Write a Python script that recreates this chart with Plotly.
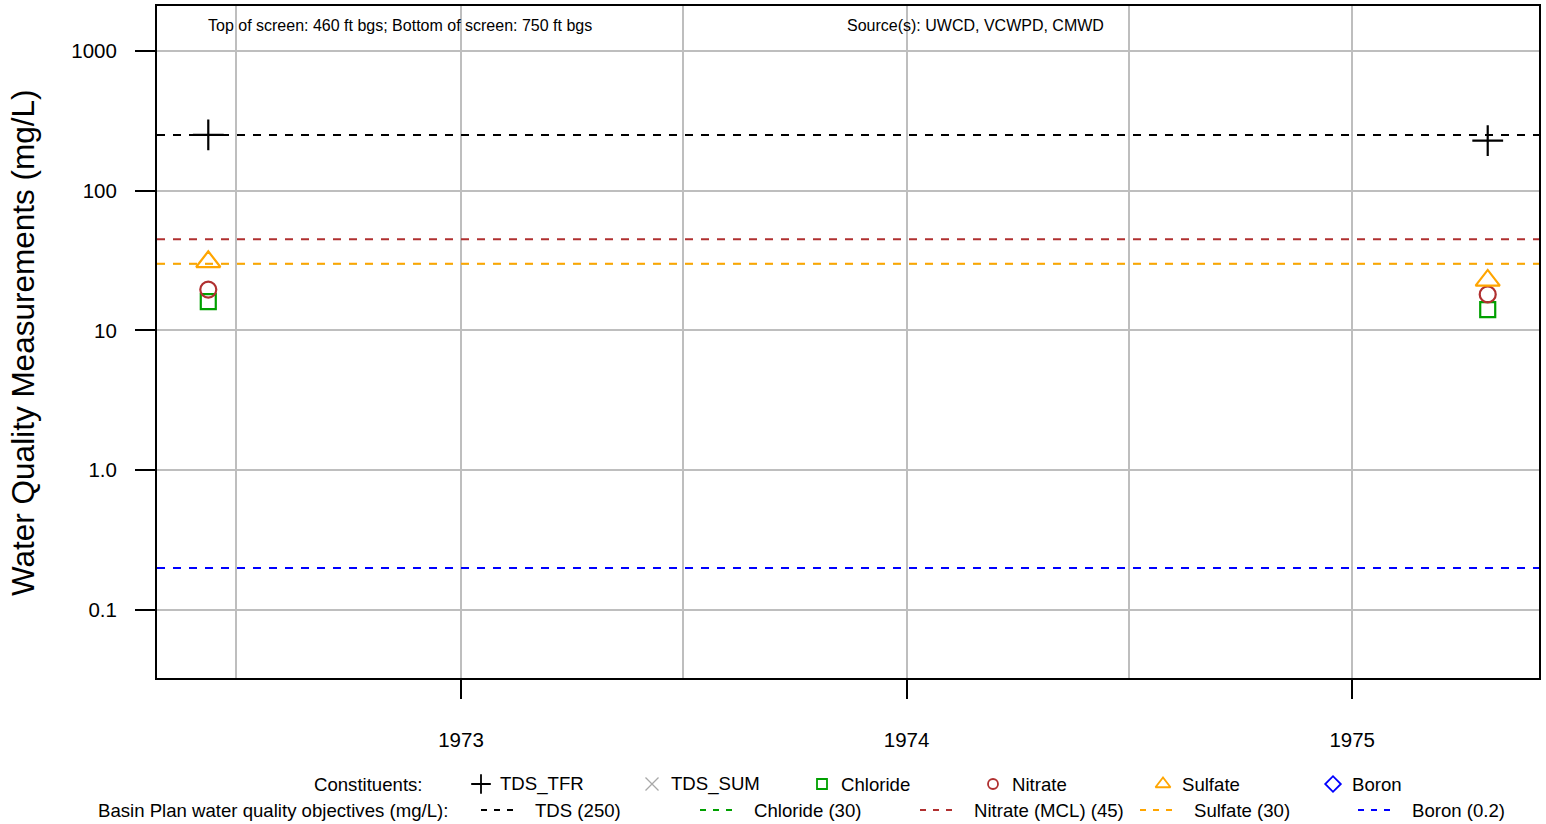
import plotly.graph_objects as go

# ---------------- data ----------------
sample_dates = ["1972-06-08", "1975-04-22"]
tds_tfr = [251, 228]
chloride = [16.1, 14.1]
nitrate = [19.6, 18.1]
sulfate = [31, 22.8]

objective_names = ["TDS (250)", "Chloride (30)", "Nitrate (MCL) (45)", "Sulfate (30)", "Boron (0.2)"]
objective_values = [250, 30, 45, 30, 0.2]
objective_colors = ["black", "#00A000", "#B03030", "orange", "blue"]

constituent_names = ["TDS_TFR", "TDS_SUM", "Chloride", "Nitrate", "Sulfate", "Boron"]
constituent_symbols = ["cross-thin-open", "x-thin-open", "square-open", "circle-open", "triangle-up-open", "diamond-open"]
constituent_colors = ["black", "#A8A8A8", "#00A000", "#B03030", "orange", "blue"]

y_tickvals = [0.1, 1, 10, 100, 1000]
y_ticktext = ["0.1", "1.0", "10", "100", "1000"]
x_tickvals = ["1973-01-01", "1974-01-01", "1975-01-01"]
x_ticktext = ["1973", "1974", "1975"]

FONT = "Liberation Sans, Arial, Helvetica, sans-serif"
W, H = 1546, 824
PL, PR, PT, PB = 157, 1539, 6, 678   # plot frame in pixels

fig = go.Figure()

# objective lines (chloride line lies under the sulfate line at the same value)
for name, val, col in zip(objective_names, objective_values, objective_colors):
    if name.startswith("Chloride"):
        fig.add_hline(y=val, line=dict(color=col, width=1, dash="8px,8px"), layer="below")
    else:
        fig.add_hline(y=val, line=dict(color=col, width=2, dash="8px,8px"), layer="above")

# data traces
series = {"TDS_TFR": tds_tfr, "Chloride": chloride, "Nitrate": nitrate, "Sulfate": sulfate}
sizes = {"TDS_TFR": 22, "Chloride": 15, "Nitrate": 16, "Sulfate": 21}
for name, sym, col in zip(constituent_names, constituent_symbols, constituent_colors):
    if name in series:
        fig.add_trace(go.Scatter(
            x=sample_dates, y=series[name], mode="markers",
            marker=dict(symbol=sym, size=sizes[name], color=col, line=dict(color=col, width=2.2)),
            showlegend=False, hoverinfo="skip"))

# ---- legend drawn on a full-figure helper subplot (pixel coordinates) ----
legend_marker_x = [481, 652, 822, 993, 1163, 1333]
legend_marker_size = [14, 13, 10, 10, 13, 12]
for i, (name, sym, col) in enumerate(zip(constituent_names, constituent_symbols, constituent_colors)):
    fig.add_trace(go.Scatter(
        x=[legend_marker_x[i]], y=[784], mode="markers", xaxis="x2", yaxis="y2",
        marker=dict(symbol=sym, size=legend_marker_size[i], color=col,
                    line=dict(color=col, width=1.8 if i != 1 else 1.3)),
        cliponaxis=False, showlegend=False, hoverinfo="skip"))
    fig.add_annotation(x=legend_marker_x[i] + 17, y=784, xref="x2", yref="y2",
                       text=name, showarrow=False, xanchor="left", yanchor="middle",
                       font=dict(family=FONT, size=18.6, color="black"))

fig.add_annotation(x=425, y=784, xref="x2", yref="y2", text="Constituents:",
                   showarrow=False, xanchor="right", yanchor="middle",
                   font=dict(family=FONT, size=18.6, color="black"))
fig.add_annotation(x=450, y=810, xref="x2", yref="y2",
                   text="Basin Plan water quality objectives (mg/L):",
                   showarrow=False, xanchor="right", yanchor="middle",
                   font=dict(family=FONT, size=18.6, color="black"))

legend_line_x = [481, 700, 920, 1140, 1358]
for i, (name, col) in enumerate(zip(objective_names, objective_colors)):
    x0 = legend_line_x[i]
    fig.add_shape(type="line", xref="x2", yref="y2", x0=x0, x1=x0 + 37,
                  y0=810, y1=810, line=dict(color=col, width=2, dash="6px,7px"))
    fig.add_annotation(x=x0 + 52, y=810, xref="x2", yref="y2", text=name,
                       showarrow=False, xanchor="left", yanchor="middle",
                       font=dict(family=FONT, size=18.6, color="black"))

# top notes
fig.add_annotation(x=400, y=25, xref="x2", yref="y2",
                   text="Top of screen: 460 ft bgs; Bottom of screen: 750 ft bgs",
                   showarrow=False, xanchor="center", yanchor="middle",
                   font=dict(family=FONT, size=16, color="black"))
fig.add_annotation(x=975, y=25, xref="x2", yref="y2",
                   text="Source(s): UWCD, VCWPD, CMWD",
                   showarrow=False, xanchor="center", yanchor="middle",
                   font=dict(family=FONT, size=16, color="black"))

# y title
fig.add_annotation(x=23, y=343, xref="x2", yref="y2",
                   text="Water Quality Measurements (mg/L)", textangle=-90,
                   showarrow=False, xanchor="center", yanchor="middle",
                   font=dict(family=FONT, size=31.5, color="black"))

fig.update_layout(
    width=W, height=H,
    margin=dict(l=0, r=0, t=0, b=0),
    paper_bgcolor="white", plot_bgcolor="rgba(0,0,0,0)",
    showlegend=False,
    font=dict(family=FONT, size=20.5, color="black"),
    xaxis=dict(
        domain=[PL / W, PR / W], anchor="y",
        type="date", range=["1972-04-27", "1975-06-03"],
        tickmode="array", tickvals=x_tickvals, ticktext=x_ticktext,
        ticks="outside", ticklen=19, tickwidth=2, tickcolor="black",
        ticklabelstandoff=23,
        showgrid=True, gridcolor="#BEBEBE", gridwidth=2,
        minor=dict(tickmode="array", tickvals=["1972-07-01", "1973-07-02", "1974-07-02"],
                   showgrid=True, gridcolor="#BEBEBE", gridwidth=2, ticks=""),
        showline=True, linecolor="black", linewidth=2, mirror=True,
        zeroline=False, tickfont=dict(family=FONT, size=20.5, color="black"),
    ),
    yaxis=dict(
        domain=[(H - PB) / H, (H - PT) / H], anchor="x",
        type="log", range=[-1.486, 3.321],
        tickmode="array", tickvals=y_tickvals, ticktext=y_ticktext,
        ticks="outside", ticklen=20, tickwidth=2, tickcolor="black",
        ticklabelstandoff=14,
        showgrid=True, gridcolor="#BEBEBE", gridwidth=2,
        showline=True, linecolor="black", linewidth=2, mirror=True,
        zeroline=False, tickfont=dict(family=FONT, size=20.5, color="black"),
    ),
    xaxis2=dict(domain=[0, 1], anchor="y2", range=[0, W], visible=False,
                showgrid=False, zeroline=False, fixedrange=True),
    yaxis2=dict(domain=[0, 1], anchor="x2", range=[H, 0], visible=False,
                showgrid=False, zeroline=False, fixedrange=True),
)

fig.write_html(
    "out.html",
    config={"displayModeBar": False},
    post_script="document.body.style.margin='0';document.body.style.overflow='hidden';",
)
